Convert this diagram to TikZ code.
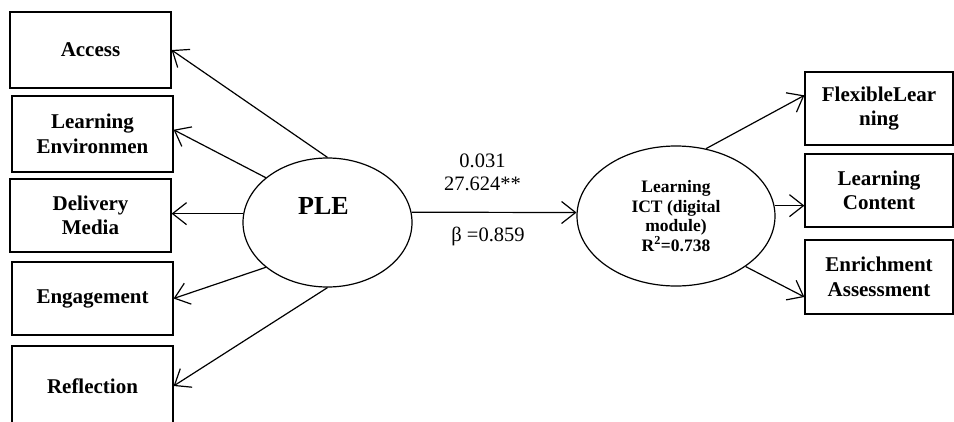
\documentclass[tikz,border=0pt]{standalone}
\usepackage{fontspec}
\setmainfont{Liberation Serif}
\usepackage{tikz}
\usetikzlibrary{arrows.meta,shapes}
\newcommand{\bigtxt}{\fontsize{21}{24.5}\selectfont}
\newcommand{\smalltxt}{\fontsize{17.5}{19.5}\selectfont}

\begin{document}
\begin{tikzpicture}[>={Straight Barb[length=14pt,width=22pt]}, x=1pt, y=-1pt, line width=1.2pt]
      \tikzstyle{every node}=[font=\bigtxt\bfseries]
      \tikzstyle{ind}=[draw, rectangle, inner sep=0pt, align=center, minimum width=161pt]
      \tikzstyle{indr}=[draw, rectangle, inner sep=0pt, align=center, minimum width=148pt, minimum height=73pt]
      \tikzstyle{latent}=[draw, ellipse, inner sep=0pt]
      \tikzstyle{coef}=[font=\fontsize{20.5}{23}\selectfont, align=center]
      %%
  \useasboundingbox (0,0) rectangle (954,421);
  \clip (0,0) rectangle (954,421);
  \node (ind_acc) at (90.5,50) [ind, minimum height=76pt] {Access};
  \node (ind_le) at (92.5,134) [ind, minimum height=76pt] {Learning\\Environmen};
  \node (ind_dm) at (90.5,215.5) [ind, minimum height=73pt] {Delivery\\Media};
  \node (ind_eng) at (92.5,298.5) [ind, minimum height=73pt] {Engagement};
  \node (ind_ref) at (92.5,386) [ind, minimum height=80pt] {Reflection};
  \node (ple) at (327.5,222.5) [latent, minimum width=169pt, minimum height=129pt,
        label={[font=\fontsize{26}{28}\selectfont\bfseries, xshift=-4pt, yshift=17pt]center:PLE}] {};
  \node (ict) at (676,216) [latent, minimum width=198pt, minimum height=140pt, font=\smalltxt\bfseries, align=center]
        {Learning\\ICT (digital\\module)\\R\textsuperscript{2}=0.738};
  \node (ind_fl) at (879,108.5) [indr] {FlexibleLear\\ning};
  \node (ind_lc) at (879,190.5) [indr] {Learning\\Content};
  \node (ind_ea) at (879,277) [indr, minimum height=74pt] {Enrichment\\Assessment};
  \node (c_top) at (482.5,172.5) [coef] {0.031\\27.624**};
  \node (c_beta) at (488,236) [coef] {β =0.859};
  \draw [->] (ple.north) -- (ind_acc.east);
  \draw [->] (ple.144) -- (ind_le.3);
  \draw [->] (ple.174) -- (ple.174 -| ind_dm.east);
  \draw [->] (ple.216) -- (ind_eng.east);
  \draw [->] (ple.south) -- (ind_ref.east);
  \draw [->] (ple.7) -- (ict.178);
  \draw [->] (ict.66) -- (ind_fl.170);
  \draw [->] (ict.6) -- (ict.6 -| ind_lc.west);
  \draw [->] (ict.-36) -- (ind_ea.195);
%

    \end{tikzpicture}
\end{document}
